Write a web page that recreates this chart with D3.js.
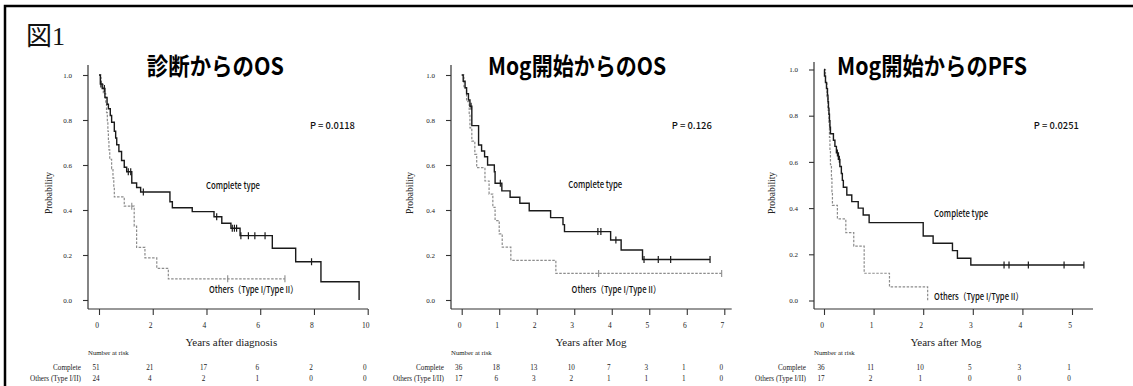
<!DOCTYPE html>
<html>
<head>
<meta charset="utf-8">
<script src="https://cdnjs.cloudflare.com/ajax/libs/d3/7.8.5/d3.min.js"></script>
<style>
  body { margin: 0; background: #fff; }
  svg text { font-family: "Liberation Serif", "DejaVu Serif", serif; fill: #222; }
  .gothic { font-family: "Noto Sans CJK JP", "Liberation Sans", sans-serif; }
</style>
</head>
<body>
<svg id="fig" width="1133" height="386"></svg>
<script>
// ---- data ----
const titles = ["診断からのOS", "Mog開始からのOS", "Mog開始からのPFS"];
const xTitles = ["Years after diagnosis", "Years after Mog", "Years after Mog"];
const pValues = ["P = 0.0118", "P = 0.126", "P = 0.0251"];
const yTicks = [0, 0.2, 0.4, 0.6, 0.8, 1.0];
const xTicks1 = [0, 2, 4, 6, 8, 10];
const xTicks2 = [0, 1, 2, 3, 4, 5, 6, 7];
const xTicks3 = [0, 1, 2, 3, 4, 5];

// [time, survival after the drop]
const os1Complete = [[0.05,0.96],[0.12,0.94],[0.22,0.90],[0.30,0.87],[0.35,0.85],[0.42,0.82],[0.47,0.79],[0.57,0.75],[0.62,0.72],[0.66,0.69],[0.74,0.66],[0.84,0.62],[0.94,0.59],[1.03,0.57],[1.22,0.52],[1.40,0.50],[1.55,0.48],[2.64,0.437],[2.73,0.41],[3.47,0.393],[4.28,0.37],[4.57,0.341],[4.91,0.319],[5.25,0.286],[6.45,0.23],[7.32,0.17],[8.26,0.081],[9.68,0]];
const os1CompleteCens = [0.07,0.2,1.09,1.18,1.65,4.38,4.96,5.04,5.12,5.28,5.56,5.8,6.18,7.91];
const os1Others = [[0.08,0.958],[0.16,0.917],[0.25,0.875],[0.28,0.833],[0.31,0.792],[0.33,0.75],[0.35,0.708],[0.37,0.667],[0.40,0.625],[0.47,0.583],[0.52,0.542],[0.55,0.5],[0.57,0.458],[0.94,0.417],[1.31,0.328],[1.40,0.234],[1.71,0.187],[2.15,0.141],[2.58,0.094]];
const os1OthersCens = [1.22,4.79,6.92];

const os2Complete = [[0.04,0.972],[0.09,0.944],[0.13,0.917],[0.18,0.889],[0.22,0.861],[0.27,0.775],[0.45,0.689],[0.53,0.662],[0.61,0.637],[0.69,0.60],[0.87,0.57],[0.89,0.519],[1.07,0.485],[1.29,0.457],[1.55,0.43],[1.80,0.397],[2.37,0.366],[2.70,0.335],[2.74,0.304],[3.97,0.267],[4.25,0.222],[4.82,0.18]];
const os2CompleteCens = [0.25,1.03,3.63,3.71,4.11,4.86,5.24,5.57,6.62];
const os2Others = [[0.06,0.941],[0.13,0.882],[0.20,0.824],[0.22,0.765],[0.27,0.706],[0.35,0.647],[0.40,0.588],[0.62,0.529],[0.73,0.471],[0.83,0.412],[0.89,0.353],[1.0,0.294],[1.08,0.235],[1.31,0.176],[2.51,0.118]];
const os2OthersCens = [3.65,6.93];

const pfsComplete = [[0.01,0.972],[0.03,0.944],[0.05,0.917],[0.07,0.889],[0.08,0.861],[0.09,0.833],[0.10,0.806],[0.11,0.778],[0.12,0.75],[0.13,0.722],[0.19,0.694],[0.22,0.667],[0.25,0.639],[0.29,0.611],[0.32,0.58],[0.35,0.55],[0.37,0.52],[0.39,0.49],[0.46,0.457],[0.56,0.428],[0.69,0.40],[0.79,0.37],[0.91,0.337],[2.0,0.279],[2.2,0.248],[2.59,0.216],[2.69,0.183],[2.96,0.154]];
const pfsCompleteCens = [0.27,0.31,3.63,3.73,4.12,4.84,5.24];
const pfsOthers = [[0.03,0.941],[0.06,0.882],[0.08,0.824],[0.10,0.765],[0.11,0.706],[0.12,0.647],[0.13,0.588],[0.15,0.529],[0.16,0.471],[0.17,0.412],[0.27,0.353],[0.44,0.294],[0.60,0.235],[0.81,0.118],[1.32,0.059],[2.09,0]];
const pfsOthersCens = [];

const riskLabels = ["Complete", "Others (Type I/II)"];
const risk1Complete = [51, 21, 17, 6, 2, 0];
const risk1Others = [24, 4, 2, 1, 0, 0];
const risk2Complete = [36, 18, 13, 10, 7, 3, 1, 0];
const risk2Others = [17, 6, 3, 2, 1, 1, 1, 0];
const risk3Complete = [36, 11, 10, 5, 3, 1];
const risk3Others = [17, 2, 1, 0, 0, 0];

// label anchors in data units [t, p]
const pPos = [[7.85, 0.78], [5.6, 0.778], [4.23, 0.76]];
const completePos = [[3.98, 0.511], [2.84, 0.514], [2.22, 0.377]];
const othersPos = [[4.09, 0.047], [2.93, 0.049], [2.22, 0.019]];

const svg = d3.select("#fig");

// frame
svg.append("rect")
  .attr("x", 5).attr("y", 6).attr("width", 1140).attr("height", 400)
  .attr("fill", "none").attr("stroke", "#000").attr("stroke-width", 2.5);

svg.append("text")
  .attr("x", 26).attr("y", 45)
  .style("font-size", "26px").style("font-family", "'Liberation Serif','Noto Sans CJK JP',serif")
  .style("fill", "#111")
  .text("図1");

const panels = [
  { title: titles[0], titleW: 137, xTitle: xTitles[0], p: pValues[0], pW: 45, xMax: 10, xTicks: xTicks1,
    x0: 99, x1: 367.7, yB: 300, yT: 75, axisX: 88, axisTop: 65, axisRight: 368, labelRight: 81, probX: 49,
    comp: os1Complete, compC: os1CompleteCens, oth: os1Others, othC: os1OthersCens,
    rc: risk1Complete, ro: risk1Others, i: 0 },
  { title: titles[1], titleW: 178, xTitle: xTitles[1], p: pValues[1], pW: 40, xMax: 7, xTicks: xTicks2,
    x0: 461.7, x1: 724.3, yB: 300, yT: 75, axisX: 451, axisTop: 65, axisRight: 731.7, labelRight: 444, probX: 410,
    comp: os2Complete, compC: os2CompleteCens, oth: os2Others, othC: os2OthersCens,
    rc: risk2Complete, ro: risk2Others, i: 1 },
  { title: titles[2], titleW: 190, xTitle: xTitles[2], p: pValues[2], pW: 45, xMax: 5, xTicks: xTicks3,
    x0: 824, x1: 1072, yB: 300.5, yT: 69.5, axisX: 814, axisTop: 62, axisRight: 1093, labelRight: 806, probX: 772,
    comp: pfsComplete, compC: pfsCompleteCens, oth: pfsOthers, othC: pfsOthersCens,
    rc: risk3Complete, ro: risk3Others, i: 2 }
];
const axisY = 309;

function survAt(steps, t) {
  let s = 1;
  steps.forEach(d => { if (d[0] <= t) s = d[1]; });
  return s;
}

function curvePoints(steps, cens) {
  const pts = [[0, 1]].concat(steps);
  const last = steps[steps.length - 1];
  const end = d3.max(cens.concat([last[0]]));
  if (end > last[0]) pts.push([end, last[1]]);
  return pts;
}

panels.forEach(cfg => {
  const x = d3.scaleLinear().domain([0, cfg.xMax]).range([cfg.x0, cfg.x1]);
  const y = d3.scaleLinear().domain([0, 1]).range([cfg.yB, cfg.yT]);
  const g = svg.append("g");

  // L-shaped axes
  g.append("line").attr("x1", cfg.axisX).attr("x2", cfg.axisX).attr("y1", cfg.axisTop).attr("y2", axisY)
    .attr("stroke", "#333").attr("stroke-width", 1.2);
  g.append("line").attr("x1", cfg.axisX).attr("x2", cfg.axisRight).attr("y1", axisY).attr("y2", axisY)
    .attr("stroke", "#333").attr("stroke-width", 1.2);

  const ya = g.append("g").attr("transform", `translate(${cfg.axisX},0)`)
    .call(d3.axisLeft(y).tickValues(yTicks).tickFormat(d3.format(".1f")).tickSize(5).tickPadding(11));
  ya.select(".domain").remove();
  ya.selectAll("line").attr("stroke", "#333").attr("stroke-width", 1.1);
  ya.selectAll("text").style("font-family", "'Liberation Serif',serif").style("font-size", "7px").attr("fill", "#333");

  const xa = g.append("g").attr("transform", `translate(0,${axisY})`)
    .call(d3.axisBottom(x).tickValues(cfg.xTicks).tickFormat(d3.format("d")).tickSize(6).tickPadding(8));
  xa.select(".domain").remove();
  xa.selectAll("line").attr("stroke", "#333").attr("stroke-width", 1.1);
  xa.selectAll("text").attr("x", -2.5).style("font-family", "'Liberation Serif',serif").style("font-size", "7.5px").attr("fill", "#333");

  // title
  g.append("text").attr("class", "gothic")
    .attr("x", (cfg.x0 + cfg.x1) / 2 - (cfg.i === 0 ? 18 : 16)).attr("y", 64)
    .attr("text-anchor", "middle").attr("dominant-baseline", "central")
    .attr("textLength", cfg.titleW).attr("lengthAdjust", "spacingAndGlyphs")
    .style("font-size", "24px").style("font-weight", 700).style("fill", "#000")
    .text(cfg.title);

  g.append("text")
    .attr("transform", `translate(${cfg.probX},193) rotate(-90)`)
    .attr("text-anchor", "middle").attr("dominant-baseline", "central")
    .style("font-size", "9.5px").text("Probability");

  g.append("text").attr("x", x(cfg.xMax / 2) - 2).attr("y", 342)
    .attr("text-anchor", "middle").attr("dominant-baseline", "central")
    .style("font-size", "11px").text(cfg.xTitle);

  // curves
  const line = d3.line().x(d => x(d[0])).y(d => y(d[1])).curve(d3.curveStepAfter);
  g.append("path").datum(curvePoints(cfg.oth, cfg.othC)).attr("d", line)
    .attr("fill", "none").attr("stroke", "#8c8c8c").attr("stroke-width", 1.2).attr("stroke-dasharray", "2.5,1.5");
  g.append("path").datum(curvePoints(cfg.comp, cfg.compC)).attr("d", line)
    .attr("fill", "none").attr("stroke", "#1a1a1a").attr("stroke-width", 1.4);

  g.selectAll(".co").data(cfg.othC).join("line")
    .attr("x1", d => x(d)).attr("x2", d => x(d))
    .attr("y1", d => y(survAt(cfg.oth, d)) - 3.5).attr("y2", d => y(survAt(cfg.oth, d)) + 3.5)
    .attr("stroke", "#8c8c8c").attr("stroke-width", 1.1);
  g.selectAll(".cc").data(cfg.compC).join("line")
    .attr("x1", d => x(d)).attr("x2", d => x(d))
    .attr("y1", d => y(survAt(cfg.comp, d)) - 3.5).attr("y2", d => y(survAt(cfg.comp, d)) + 3.5)
    .attr("stroke", "#1a1a1a").attr("stroke-width", 1.2);

  // annotations
  const ann = (pos, txt, w) => g.append("text").attr("class", "gothic")
    .attr("x", x(pos[0])).attr("y", y(pos[1])).attr("dominant-baseline", "central")
    .attr("textLength", w).attr("lengthAdjust", "spacingAndGlyphs")
    .style("font-size", "9.5px").style("font-weight", 500).style("fill", "#111")
    .text(txt);
  ann(pPos[cfg.i], cfg.p, cfg.pW);
  ann(completePos[cfg.i], "Complete type", 54);
  ann(othersPos[cfg.i], "Others（Type I/Type II）", 89);

  // number at risk
  g.append("text").attr("x", cfg.axisX).attr("y", 352.7).attr("dominant-baseline", "central")
    .style("font-size", "6.8px").text("Number at risk");
  [[riskLabels[0], cfg.rc, 368.3], [riskLabels[1], cfg.ro, 378.7]].forEach(([lab, vals, yy]) => {
    g.append("text").attr("x", cfg.labelRight).attr("y", yy).attr("text-anchor", "end")
      .attr("dominant-baseline", "central").style("font-size", "7.2px").text(lab);
    g.selectAll(null).data(vals).join("text")
      .attr("x", (d, k) => x(cfg.xTicks[k]) - 3).attr("y", yy)
      .attr("text-anchor", "middle").attr("dominant-baseline", "central")
      .style("font-size", "7.2px").text(d => d);
  });
});
</script>
</body>
</html>
